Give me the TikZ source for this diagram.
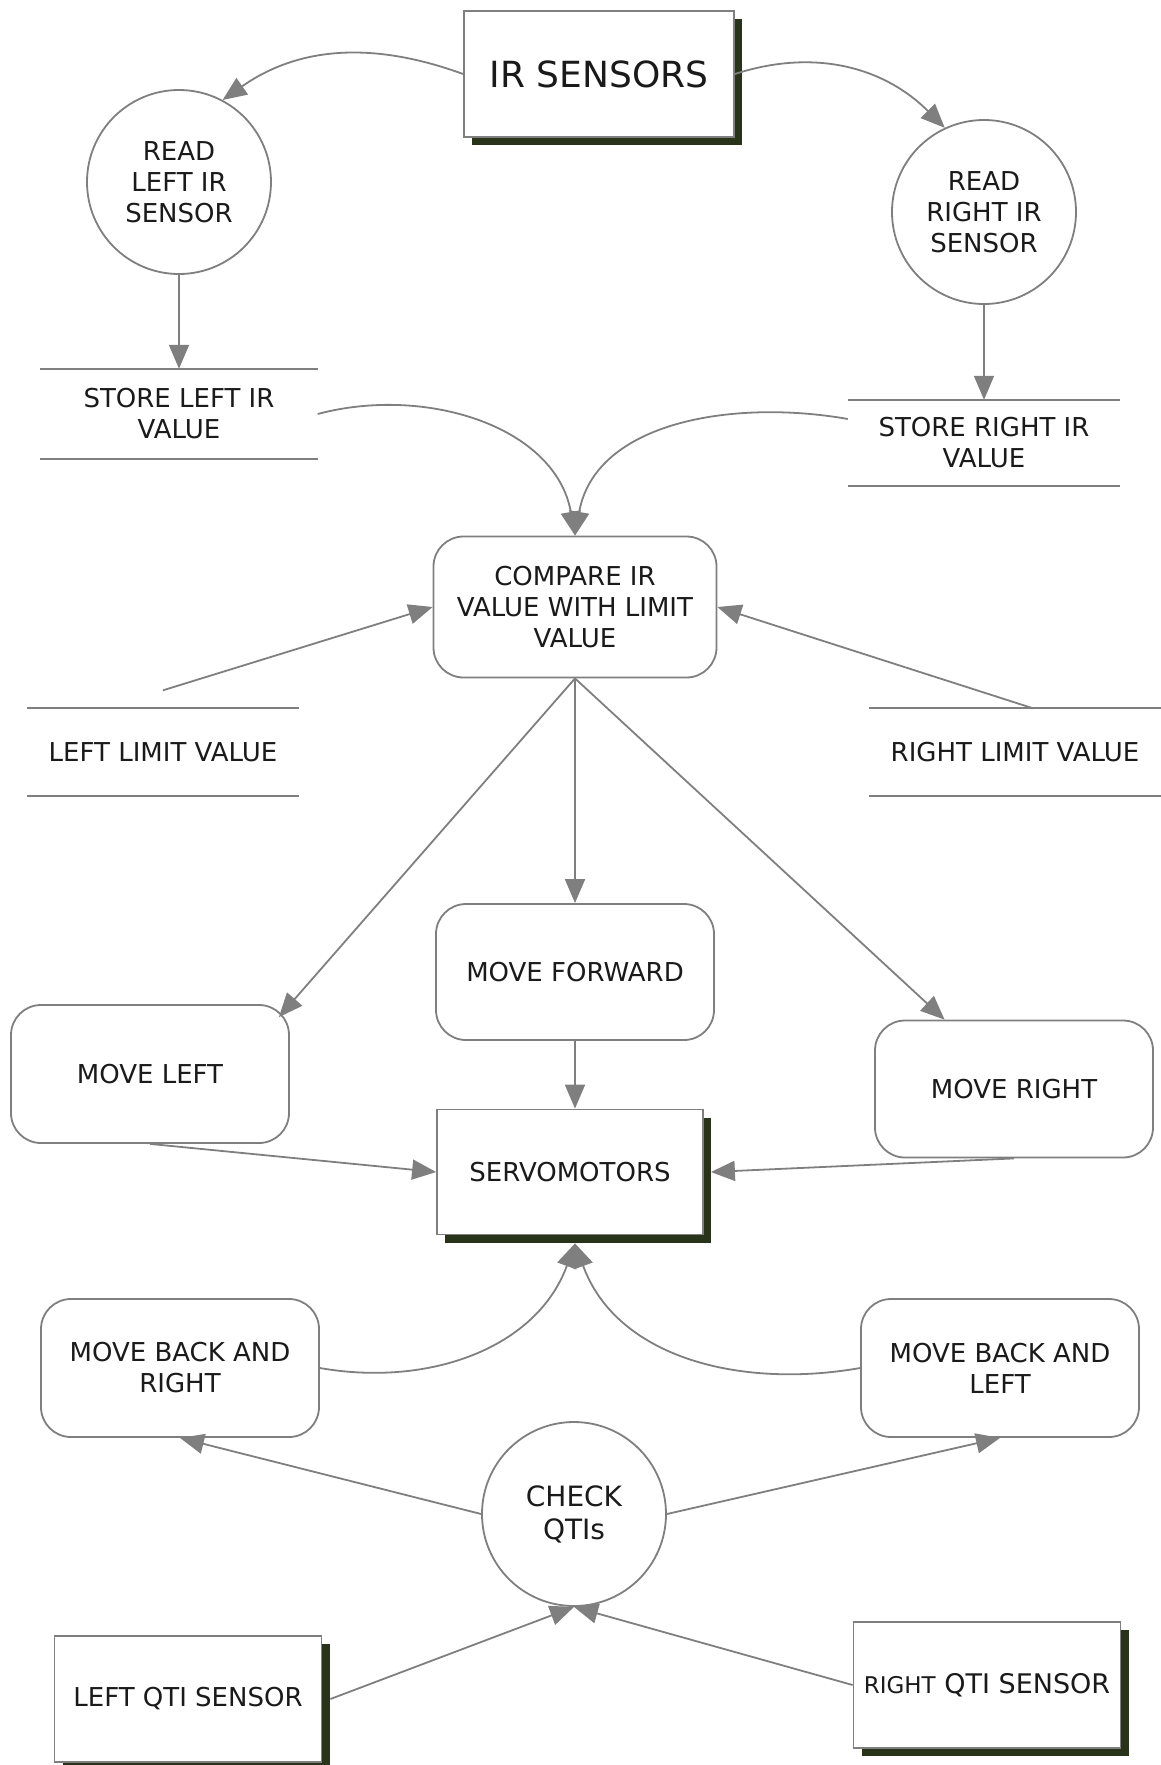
\documentclass[tikz,border=0pt]{standalone}
\usepackage{fontspec}
\setmainfont{DejaVu Sans}
\usetikzlibrary{arrows.meta,shadows}

\definecolor{linegray}{HTML}{7F7F7F}
\definecolor{inkcol}{HTML}{1A1A1A}
\definecolor{shadowcol}{HTML}{28331A}

\tikzset{
  flow/.style={draw=linegray, line width=1.8pt, -{Triangle[length=24pt,width=20pt]}},
  txt/.style={text=inkcol, align=center, font=\fontsize{26}{31}\selectfont},
  procbox/.style={txt, draw=linegray, line width=1.8pt, fill=white, rounded corners=30pt,
    minimum width=278pt, minimum height=137pt},
  proccircle/.style={txt, circle, draw=linegray, line width=1.8pt, fill=white,
    minimum size=184pt, inner sep=0pt},
  extbox/.style={txt, draw=linegray, line width=1.8pt, fill=white,
    minimum width=267pt, minimum height=126pt,
    drop shadow={shadow xshift=8pt, shadow yshift=-8pt, fill=shadowcol, opacity=1}},
  storebox/.style={txt, minimum height=88pt},
  storeline/.style={draw=linegray, line width=1.8pt}
}

\begin{document}
\begin{tikzpicture}[x=1pt,y=-1pt]
      \useasboundingbox (0,0) rectangle (1161,1765);

      % IR sensors
      \node[extbox, minimum width=270pt, font=\fontsize{36}{42}\selectfont] (ir) at (599,74) {IR SENSORS};
      \node[proccircle] (readL) at (179,182) {READ\\LEFT IR\\SENSOR};
      \node[proccircle] (readR) at (984,212) {READ\\RIGHT IR\\SENSOR};

      % stores
      \node[storebox, minimum width=277pt, minimum height=90pt] (storeL) at (179,414) {STORE LEFT IR\\VALUE};
      \node[storebox, minimum width=272pt, minimum height=86pt] (storeR) at (984,443) {STORE RIGHT IR\\VALUE};
      \draw[storeline] (storeL.north west) -- (storeL.north east) (storeL.south west) -- (storeL.south east);
      \draw[storeline] (storeR.north west) -- (storeR.north east) (storeR.south west) -- (storeR.south east);

      % compare
      \node[procbox, minimum width=283pt, minimum height=141pt] (compare) at (575,607) {COMPARE IR\\VALUE WITH LIMIT\\VALUE};

      % limits
      \node[storebox, minimum width=271pt, minimum height=87pt] (leftlim) at (163,752) {LEFT LIMIT VALUE};
      \node[storebox, minimum width=291pt, minimum height=87pt] (rightlim) at (1015,752) {RIGHT LIMIT VALUE};
      \draw[storeline] (leftlim.north west) -- (leftlim.north east) (leftlim.south west) -- (leftlim.south east);
      \draw[storeline] (rightlim.north west) -- (rightlim.north east) (rightlim.south west) -- (rightlim.south east);

      % moves
      \node[procbox, minimum height=136pt] (moveF) at (575,972) {MOVE FORWARD};
      \node[procbox, minimum height=138pt] (moveL) at (150,1074) {MOVE LEFT};
      \node[procbox] (moveR) at (1014,1089) {MOVE RIGHT};

      % servos
      \node[extbox, minimum width=266pt, minimum height=125pt] (servo) at (570,1172) {SERVOMOTORS};
      \coordinate (servoin) at ([xshift=5pt,yshift=-8pt]servo.south);

      % QTIs
      \node[procbox, minimum height=138pt] (mbr) at (180,1368) {MOVE BACK AND\\RIGHT};
      \node[procbox, minimum height=138pt] (mbl) at (1000,1368) {MOVE BACK AND\\LEFT};
      \node[proccircle, font=\fontsize{28}{33}\selectfont] (check) at (574,1514) {CHECK\\QTIs};
      \node[extbox] (lqti) at (188,1699) {LEFT QTI SENSOR};
      \node[extbox, font=\fontsize{27}{32}\selectfont] (rqti) at (987,1685) {{\fontsize{23}{28}\selectfont RIGHT} QTI SENSOR};

      % arrows, top part
      \draw[flow] (ir.west) to[out=160,in=35] (readL.62);
      \draw[flow] (ir.east) to[out=18,in=135] (readR.115);
      \draw[flow] (readL.south) -- (storeL.north);
      \draw[flow] (readR.south) -- (storeR.north);
      \draw[flow] (storeL.east) to[out=15,in=100] (compare.north);
      \draw[flow] (storeR.170) to[out=170,in=80] (compare.north);
      \draw[flow] ([yshift=18pt]leftlim.north) -- (compare.west);
      \draw[flow] ([xshift=18pt]rightlim.north) -- (compare.east);

      % arrows, moves
      \draw[flow] (compare.south) -- (moveF.north);
      \draw[flow] (compare.south) -- ([xshift=-11pt,yshift=-13pt]moveL.north east);
      \draw[flow] (compare.south) -- (moveR.135);
      \draw[flow] (moveF.south) -- (moveF.south |- servo.north);
      \draw[flow] (moveL.south) -- (servo.west);
      \draw[flow] (moveR.south) -- ([xshift=7pt]servo.east);

      % arrows, bottom part
      \draw[flow] (mbr.east) to[out=-10,in=-110] (servoin);
      \draw[flow] (mbl.west) to[out=190,in=-70] (servoin);
      \draw[flow] (check.west) -- (mbr.south);
      \draw[flow] (check.east) -- (mbl.south);
      \draw[flow] ([xshift=8pt]lqti.east) -- (check.south);
      \draw[flow] (rqti.west) -- (check.south);
  \end{tikzpicture}
\end{document}
